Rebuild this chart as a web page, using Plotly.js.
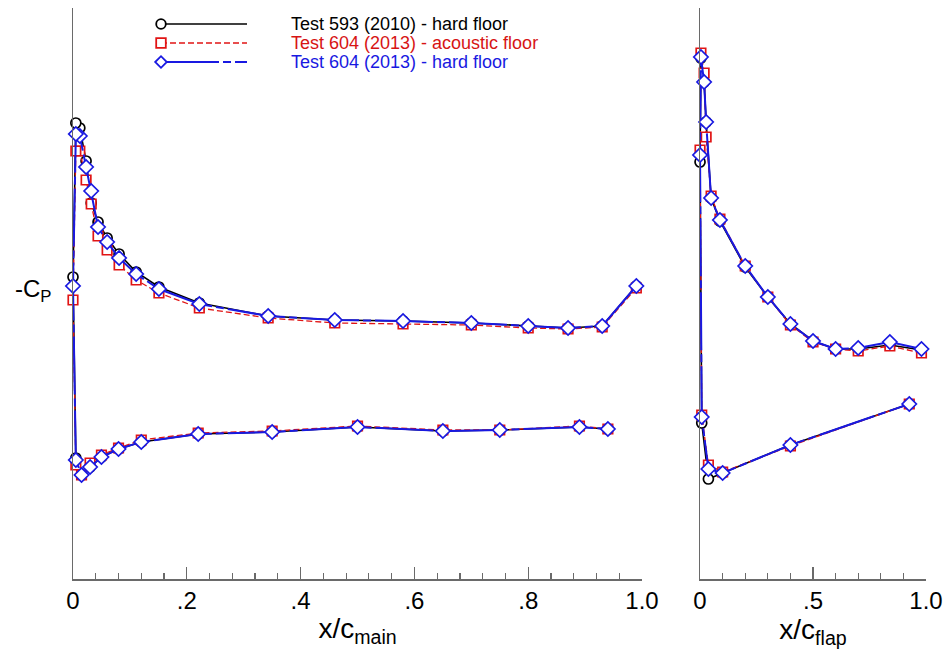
<!DOCTYPE html>
<html>
<head>
<meta charset="utf-8">
<script src="https://cdn.plot.ly/plotly-3.0.1.min.js"></script>
<style>html,body{margin:0;padding:0;background:#fff;}#chart{width:951px;height:652px;}</style>
</head>
<body>
<div id="chart"></div>
<script>
// ---- Data (-Cp in arbitrary linear units) ----
const seriesNames = [
  'Test 593 (2010) - hard floor',
  'Test 604 (2013) - acoustic floor',
  'Test 604 (2013) - hard floor'
];

// Main element: upper surface ordered trailing edge -> leading edge, then lower surface LE -> TE
const mainUpperX = [0.99,0.93,0.87,0.80,0.70,0.58,0.46,0.343,0.222,0.151,0.111,0.081,0.06,0.044,0.032,0.023,0.012,0.005,0.0];
const mainLowerX = [0.005,0.015,0.03,0.05,0.08,0.12,0.22,0.35,0.50,0.65,0.75,0.89,0.94];

const main593Upper = [0.93,0.53,0.51,0.53,0.56,0.58,0.59,0.63,0.76,0.92,1.07,1.25,1.41,1.57,1.76,2.18,2.51,2.56,1.02];
const main604aUpper = [0.91,0.52,0.50,0.51,0.54,0.55,0.56,0.61,0.71,0.86,0.99,1.14,1.29,1.43,1.75,1.99,2.28,2.28,0.79];
const main604hUpper = [0.93,0.53,0.51,0.53,0.56,0.58,0.59,0.63,0.75,0.90,1.05,1.21,1.37,1.52,1.88,2.12,2.43,2.45,0.93];

const main593Lower = [-0.79,-0.96,-0.88,-0.78,-0.70,-0.63,-0.55,-0.53,-0.48,-0.52,-0.51,-0.48,-0.50];
const main604aLower = [-0.86,-0.96,-0.84,-0.76,-0.69,-0.61,-0.54,-0.52,-0.47,-0.51,-0.51,-0.47,-0.50];
const main604hLower = [-0.81,-0.96,-0.88,-0.78,-0.70,-0.63,-0.55,-0.53,-0.48,-0.52,-0.51,-0.48,-0.50];

// Flap element
const flapUpperX = [0.98,0.84,0.70,0.60,0.50,0.40,0.30,0.20,0.088,0.049,0.027,0.018,0.004,0.0];
const flapLowerX = [0.0075,0.037,0.10,0.40,0.926];

const flap593Upper = [0.29,0.34,0.30,0.30,0.38,0.55,0.82,1.12,1.58,1.81,2.57,2.97,3.21,2.17];
const flap604aUpper = [0.26,0.33,0.28,0.30,0.37,0.54,0.82,1.13,1.60,1.83,2.42,3.06,3.26,2.29];
const flap604hUpper = [0.30,0.37,0.31,0.30,0.38,0.55,0.82,1.13,1.59,1.81,2.57,2.97,3.22,2.24];

const flap593Lower = [-0.44,-1.00,-0.94,-0.66,-0.25];
const flap604aLower = [-0.36,-0.86,-0.93,-0.67,-0.25];
const flap604hLower = [-0.38,-0.90,-0.94,-0.66,-0.25];

const mainTickVals = [0,0.2,0.4,0.6,0.8,1.0];
const mainTickText = ['0','.2','.4','.6','.8','1.0'];
const flapTickVals = [0,0.5,1.0];
const flapTickText = ['0','.5','1.0'];

// ---- Styles ----
const styles = [
  {color:'#000000', text:'#000000', symbol:'circle', size:10, dash:'solid', width:1.6},
  {color:'rgb(225,20,20)', text:'rgb(215,20,20)', symbol:'square', size:9.5, dash:'6px,3px', width:1.3},
  {color:'rgb(25,25,225)', text:'rgb(25,25,225)', symbol:'diamond', size:11, dash:'58px,4px,8px,4px', width:2}
];

const mainY = [[main593Upper,main593Lower],[main604aUpper,main604aLower],[main604hUpper,main604hLower]];
const flapY = [[flap593Upper,flap593Lower],[flap604aUpper,flap604aLower],[flap604hUpper,flap604hLower]];

const traces = [];
function mk(i, x, y, xa, ya){
  const s = styles[i];
  return {
    type:'scatter', mode:'lines+markers',
    x:x, y:y, xaxis:xa, yaxis:ya,
    name:seriesNames[i], showlegend:false, cliponaxis:false,
    line:{color:s.color, width:s.width, dash:s.dash},
    marker:{symbol:s.symbol, size:s.size, color:'rgba(255,255,255,1)', line:{color:s.color, width:1.7}}
  };
}
for(let i=0;i<3;i++){
  traces.push(mk(i, mainUpperX.concat(mainLowerX), mainY[i][0].concat(mainY[i][1]), 'x','y'));
}
for(let i=0;i<3;i++){
  traces.push(mk(i, flapUpperX.concat(flapLowerX), flapY[i][0].concat(flapY[i][1]), 'x2','y2'));
}

// ---- Layout ----
const W = 951, H = 652, ML = 73, MR = 25, MT = 8, MB = 73;
const PW = W - ML - MR, PH = H - MT - MB;
const px2x = p => (p - ML) / PW;       // pixel -> paper x
const py2y = p => (H - MB - p) / PH;   // pixel -> paper y

const axisCol = '#6a6a6a';
const fontFam = 'Liberation Sans, Arial, Helvetica, sans-serif';
function xAxis(domain, tv, tt, minorDt, title){
  return {
    domain:domain, range:[0,1], autorange:false,
    tickmode:'array', tickvals:tv, ticktext:tt,
    ticks:'inside', ticklen:12, tickwidth:1.3, tickcolor:axisCol,
    minor:{tick0:0, dtick:minorDt, ticks:'inside', ticklen:6, tickwidth:1.2, tickcolor:axisCol, showgrid:false},
    showline:true, linecolor:axisCol, linewidth:1.5,
    showgrid:false, zeroline:false,
    tickfont:{size:24, color:'#000', family:fontFam},
    title:{text:title, font:{size:28, color:'#000', family:fontFam}, standoff:5},
    automargin:false
  };
}
function yAxis(anchor){
  return {
    anchor:anchor, domain:[0,1], range:[-2,3.71], autorange:false,
    showticklabels:false, ticks:'', showline:true, linecolor:axisCol, linewidth:1.5,
    showgrid:false, zeroline:false, automargin:false
  };
}

// Legend (drawn as Tecplot-style key: marker at the left end of a long line sample)
const legRowsPx = [24, 43, 62];
const legLineX0 = 161, legLineX1 = 247, legTextX = 290, mkR = 4.8;
const shapes = [], annotations = [];
legRowsPx.forEach((ry, i) => {
  const s = styles[i];
  shapes.push({type:'line', xref:'paper', yref:'paper',
    x0:px2x(legLineX0), x1:px2x(legLineX1), y0:py2y(ry), y1:py2y(ry),
    line:{color:s.color, width:s.width, dash:s.dash}});
  const cx = legLineX0, r = (i === 2) ? 5.8 : mkR;
  if(s.symbol === 'circle'){
    shapes.push({type:'circle', xref:'paper', yref:'paper',
      x0:px2x(cx - r), x1:px2x(cx + r), y0:py2y(ry + r), y1:py2y(ry - r),
      fillcolor:'#fff', line:{color:s.color, width:1.8}});
  } else if(s.symbol === 'square'){
    shapes.push({type:'rect', xref:'paper', yref:'paper',
      x0:px2x(cx - r), x1:px2x(cx + r), y0:py2y(ry + r), y1:py2y(ry - r),
      fillcolor:'#fff', line:{color:s.color, width:1.8}});
  } else {
    const p = 'M' + px2x(cx - r) + ',' + py2y(ry) + ' L' + px2x(cx) + ',' + py2y(ry - r) +
              ' L' + px2x(cx + r) + ',' + py2y(ry) + ' L' + px2x(cx) + ',' + py2y(ry + r) + ' Z';
    shapes.push({type:'path', xref:'paper', yref:'paper', path:p,
      fillcolor:'#fff', line:{color:s.color, width:1.8}});
  }
  annotations.push({xref:'paper', yref:'paper', x:px2x(legTextX), y:py2y(ry),
    xanchor:'left', yanchor:'middle', showarrow:false, text:seriesNames[i], borderpad:0,
    font:{size:18, color:s.text, family:fontFam}});
});
annotations.push({
  xref:'paper', yref:'paper', x:px2x(54), y:py2y(290), xanchor:'right', yanchor:'middle',
  text:'-C<sub>P</sub>', showarrow:false, font:{size:24, color:'#000', family:fontFam}
});

const layout = {
  width:W, height:H,
  margin:{l:ML, r:MR, t:MT, b:MB},
  paper_bgcolor:'#fff', plot_bgcolor:'#fff',
  font:{family:fontFam, color:'#000'},
  showlegend:false,
  xaxis: xAxis([0,0.6671], mainTickVals, mainTickText, 0.04, 'x/c<sub>main</sub>'),
  yaxis: yAxis('x'),
  xaxis2: Object.assign(xAxis([0.7351,1], flapTickVals, flapTickText, 0.1, 'x/c<sub>flap</sub>'), {anchor:'y2'}),
  yaxis2: yAxis('x2'),
  shapes: shapes,
  annotations: annotations
};

Plotly.newPlot('chart', traces, layout, {displayModeBar:false, staticPlot:true});
</script>
</body>
</html>
